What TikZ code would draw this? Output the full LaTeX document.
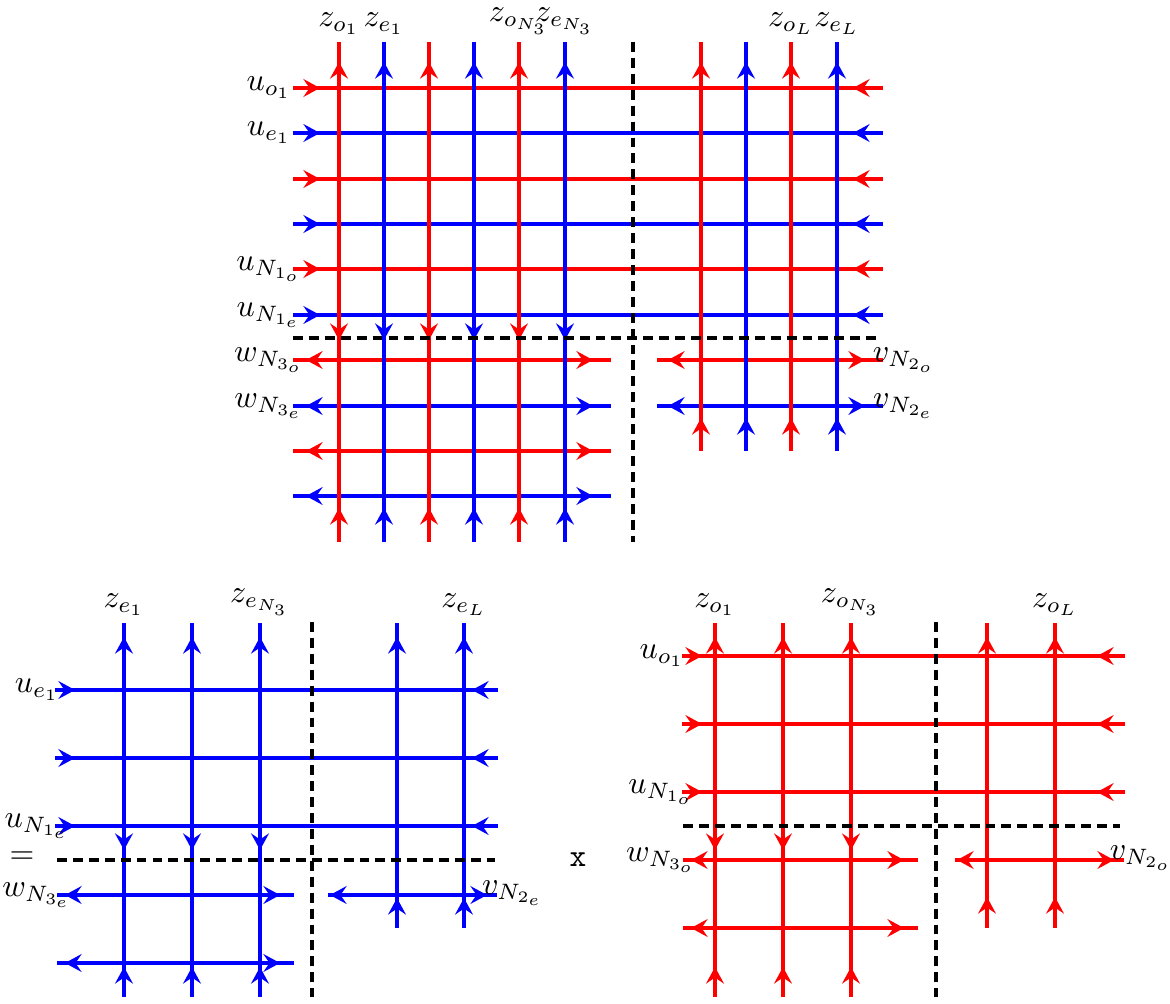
\documentclass[tikz,border=0pt]{standalone}
\usetikzlibrary{arrows.meta}
\begin{document}
\begin{tikzpicture}[x=0.314pt,y=-0.314pt,
  ln/.style={line width=1.4pt},
  tp/.style={line width=1.4pt,-{Stealth[length=5.2pt,width=5.6pt,inset=1.9pt]}},
  dsh/.style={line width=1.4pt,dash pattern=on 3.1pt off 1.9pt},
  lab/.style={inner sep=1pt},
  toplab/.style={anchor=south,inner sep=2.2pt}]
\useasboundingbox (0,0) rectangle (1170,1003);

% ================= TOP DIAGRAM =================
\foreach \y/\c in {88/red,133/blue,179/red,224/blue,269/red,315/blue}{
  \draw[ln,\c] (293,\y) -- (883,\y);
  \draw[tp,\c] (300,\y) -- (320,\y);
  \draw[tp,\c] (873,\y) -- (853,\y);
}
\foreach \y/\c in {360/red,406/blue,451/red,496/blue}{
  \draw[ln,\c] (293,\y) -- (611,\y);
  \draw[tp,\c] (326,\y) -- (306,\y);
  \draw[tp,\c] (573,\y) -- (593,\y);
}
\foreach \y/\c in {360/red,406/blue}{
  \draw[ln,\c] (657,\y) -- (883,\y);
  \draw[tp,\c] (688,\y) -- (668,\y);
  \draw[tp,\c] (845,\y) -- (865,\y);
}
\foreach \x/\c in {339/red,384/blue,429/red,474/blue,519/red,565/blue}{
  \draw[ln,\c] (\x,42) -- (\x,542);
  \draw[tp,\c] (\x,82) -- (\x,62);
  \draw[tp,\c] (\x,320) -- (\x,340);
  \draw[tp,\c] (\x,528) -- (\x,508);
}
\foreach \x/\c in {701/red,746/blue,791/red,837/blue}{
  \draw[ln,\c] (\x,42) -- (\x,451);
  \draw[tp,\c] (\x,82) -- (\x,62);
  \draw[tp,\c] (\x,438) -- (\x,418);
}
\draw[dsh] (633,42) -- (633,542);
\draw[dsh] (293,338) -- (880,338);

\node[toplab] (zo1) at (339,42) {$z_{o_1}$};
\node[toplab] (ze1) at (384,42) {$z_{e_1}$};
\node[toplab] (zoN) at (519,42) {$z_{o_{N_3}}$};
\node[toplab] (zeN) at (565,42) {$z_{e_{N_3}}$};
\node[toplab] (zoL) at (791,42) {$z_{o_L}$};
\node[toplab] (zeL) at (837,42) {$z_{e_L}$};
\node[lab] (uo1) at (269,88) {$u_{o_1}$};
\node[lab] (ue1) at (269,133) {$u_{e_1}$};
\node[lab] (uN1o) at (269,269) {$u_{N_{1_o}}$};
\node[lab] (uN1e) at (269,315) {$u_{N_{1_e}}$};
\node[lab] (wN3o) at (269,360) {$w_{N_{3_o}}$};
\node[lab] (wN3e) at (269,406) {$w_{N_{3_e}}$};
\node[lab] (vN2o) at (904,360) {$v_{N_{2_o}}$};
\node[lab] (vN2e) at (904,406) {$v_{N_{2_e}}$};

% ================= BOTTOM LEFT (blue) =================
\foreach \y in {690,758,826}{
  \draw[ln,blue] (57,\y) -- (498,\y);
  \draw[tp,blue] (55,\y) -- (75,\y);
  \draw[tp,blue] (492,\y) -- (472,\y);
}
\foreach \y in {895,963}{
  \draw[ln,blue] (57,\y) -- (294,\y);
  \draw[tp,blue] (85,\y) -- (65,\y);
  \draw[tp,blue] (260,\y) -- (280,\y);
}
\draw[ln,blue] (328,895) -- (497,895);
\draw[tp,blue] (350,895) -- (330,895);
\draw[tp,blue] (467,895) -- (487,895);
\foreach \x in {124,192,260}{
  \draw[ln,blue] (\x,623) -- (\x,997);
  \draw[tp,blue] (\x,657) -- (\x,637);
  \draw[tp,blue] (\x,830) -- (\x,850);
  \draw[tp,blue] (\x,987) -- (\x,967);
}
\foreach \x in {397,464}{
  \draw[ln,blue] (\x,623) -- (\x,928);
  \draw[tp,blue] (\x,657) -- (\x,637);
  \draw[tp,blue] (\x,918) -- (\x,898);
}
\draw[dsh] (312,622) -- (312,997);
\draw[dsh] (57,860) -- (495,860);

\node[toplab] (bze1) at (124,623) {$z_{e_1}$};
\node[toplab] (bzeN) at (260,623) {$z_{e_{N_3}}$};
\node[toplab] (bzeL) at (464,623) {$z_{e_L}$};
\node[lab] (bue1) at (37,690) {$u_{e_1}$};
\node[lab] (buN1e) at (37,826) {$u_{N_{1_e}}$};
\node[lab] (beq) at (22,858) {$=$};
\node[lab] (bwN3e) at (37,895) {$w_{N_{3_e}}$};
\node[lab] (bvN2e) at (513,893) {$v_{N_{2_e}}$};

% ================= times sign =================
\node[lab] (times) at (578,860) {\texttt{x}};

% ================= BOTTOM RIGHT (red) =================
\foreach \y in {656,724,792}{
  \draw[ln,red] (683,\y) -- (1125,\y);
  \draw[tp,red] (682,\y) -- (702,\y);
  \draw[tp,red] (1117,\y) -- (1097,\y);
}
\foreach \y in {860,928}{
  \draw[ln,red] (683,\y) -- (918,\y);
  \draw[tp,red] (711,\y) -- (691,\y);
  \draw[tp,red] (884,\y) -- (904,\y);
}
\draw[ln,red] (955,860) -- (1124,860);
\draw[tp,red] (977,860) -- (957,860);
\draw[tp,red] (1094,860) -- (1114,860);
\foreach \x in {715,783,851}{
  \draw[ln,red] (\x,623) -- (\x,997);
  \draw[tp,red] (\x,657) -- (\x,637);
  \draw[tp,red] (\x,830) -- (\x,850);
  \draw[tp,red] (\x,987) -- (\x,967);
}
\foreach \x in {987,1055}{
  \draw[ln,red] (\x,623) -- (\x,928);
  \draw[tp,red] (\x,657) -- (\x,637);
  \draw[tp,red] (\x,917) -- (\x,897);
}
\draw[dsh] (936,622) -- (936,997);
\draw[dsh] (683,826) -- (1120,826);

\node[toplab] (rzo1) at (715,623) {$z_{o_1}$};
\node[toplab] (rzoN) at (851,623) {$z_{o_{N_3}}$};
\node[toplab] (rzoL) at (1055,623) {$z_{o_L}$};
\node[lab] (ruo1) at (662,656) {$u_{o_1}$};
\node[lab] (ruN1o) at (661,792) {$u_{N_{1_o}}$};
\node[lab] (rwN3o) at (661,860) {$w_{N_{3_o}}$};
\node[lab] (rvN2o) at (1141,858) {$v_{N_{2_o}}$};
\end{tikzpicture}
\end{document}
